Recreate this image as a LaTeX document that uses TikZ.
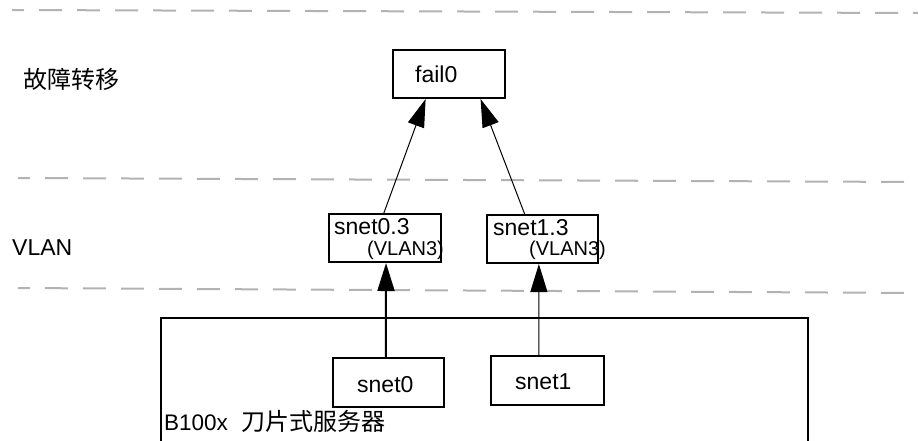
\documentclass[tikz,border=0pt]{standalone}
\usepackage{fontspec}
\setmainfont{Liberation Sans}
\newfontfamily\cjk{Noto Sans CJK SC}
\usetikzlibrary{arrows.meta,calc}
\definecolor{sepgray}{RGB}{178,178,178}
\begin{document}
\begin{tikzpicture}[x=1pt,y=-1pt,
  box/.style={draw,line width=2pt,inner sep=0pt},
  lbl/.style={anchor=base west,inner sep=0pt,font=\fontsize{23}{26}\selectfont},
  sub/.style={anchor=base west,inner sep=0pt,font=\fontsize{20}{23}\selectfont},
  sep/.style={draw=sepgray,line width=2pt,dash pattern=on 23pt off 15pt,dash phase=11pt},
  arr/.style={-{Triangle[length=28pt,width=17pt]}},
]
\useasboundingbox (0,0) rectangle (918,440);
\clip (0,0) rectangle (918,440);
% separators
\coordinate (l1a) at (12,10);  \coordinate (l1b) at (918,13);
\coordinate (l2a) at (18,178); \coordinate (l2b) at (918,182);
\coordinate (l3a) at (18,288); \coordinate (l3b) at (918,293);
\draw[sep] (l1a) -- (l1b);
\draw[sep] (l2a) -- (l2b);
\draw[sep] (l3a) -- (l3b);
% boxes
\node[box,minimum width=647pt,minimum height=150pt] (chassis) at (484.5,393) {};
\node[box,minimum width=112pt,minimum height=48pt] (fail) at (449,74) {};
\node[box,minimum width=112pt,minimum height=48pt] (s03) at (385,238) {};
\node[box,minimum width=111pt,minimum height=48pt] (s13) at (542.5,239) {};
\node[box,minimum width=111pt,minimum height=49pt] (s0) at (388.5,382.5) {};
\node[box,minimum width=113pt,minimum height=49pt] (s1) at (547.5,380.5) {};
% texts
\node[lbl,font=\cjk\fontsize{24}{27}\selectfont] (t1) at (23,88) {故障转移};
\node[lbl] (t2) at (12,255) {VLAN};
\node[lbl] (tf) at (415,82) {fail0};
\node[lbl] (t03) at (334,234) {snet0.3};
\node[sub] (v03) at (367,255) {(VLAN3)};
\node[lbl] (t13) at (493,235) {snet1.3};
\node[sub] (v13) at (529,255) {(VLAN3)};
\node[lbl] (ts0) at (357,392) {snet0};
\node[lbl] (ts1) at (515,389) {snet1};
\node[lbl,font=\fontsize{22.5}{25}\selectfont] (tb) at (164,430) {B100x\hspace{13pt}{\cjk\fontsize{24}{27}\selectfont 刀片式服务器}};
% connectors
\draw[arr,line width=1pt] ($(s03.north west)!0.49!(s03.north east)$) -- ($(fail.south west)!0.295!(fail.south east)$);
\draw[arr,line width=1pt] ($(s13.north west)!0.342!(s13.north east)$) -- ($(fail.south west)!0.777!(fail.south east)$);
\draw[arr,line width=2pt] ($(s0.north west)!0.477!(s0.north east)$) -- ($(s03.south west)!0.509!(s03.south east)$);
\draw[arr,line width=1pt] ($(s1.north west)!0.425!(s1.north east)$) -- ($(s13.south west)!0.468!(s13.south east)$);
\end{tikzpicture}
\end{document}
